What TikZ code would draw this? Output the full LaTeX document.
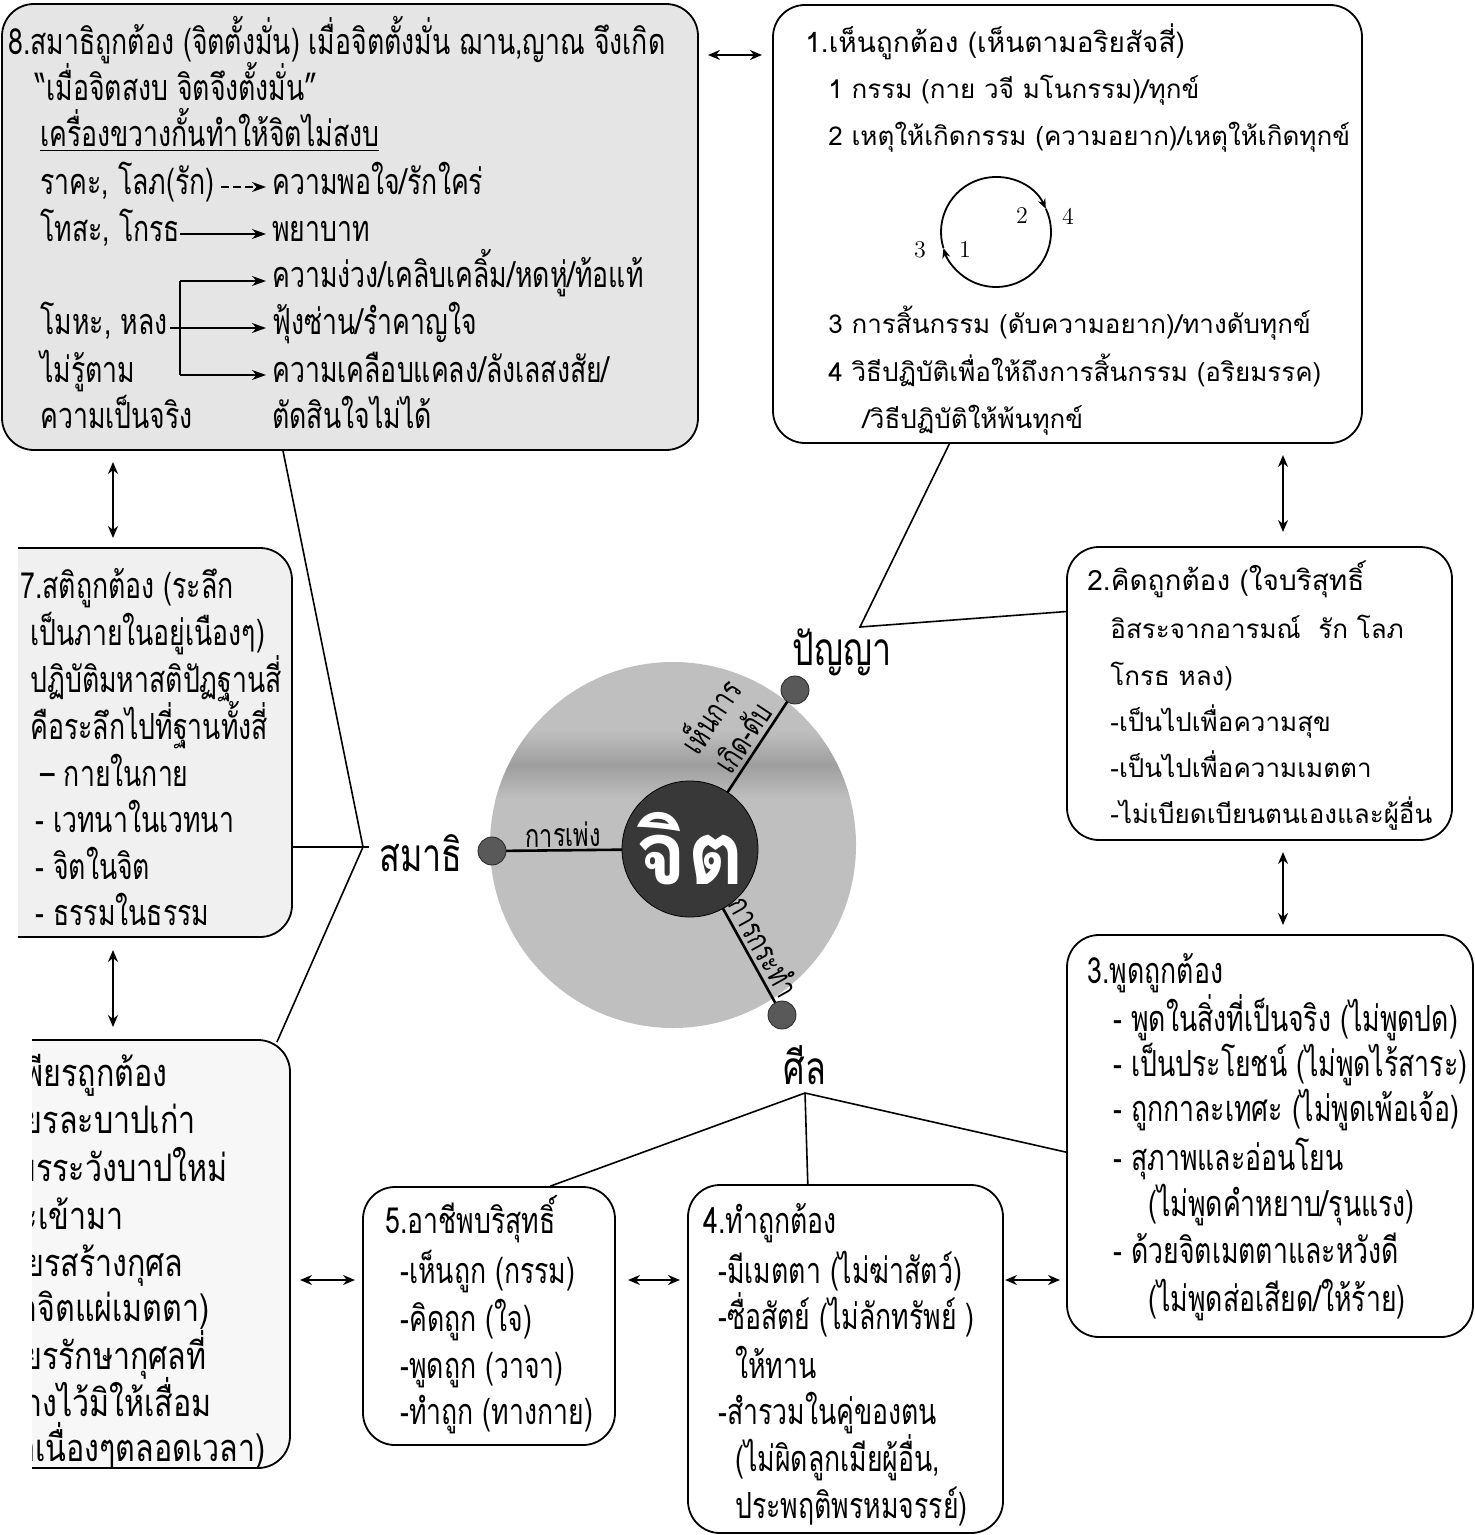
\documentclass[tikz,border=0pt]{standalone}
\usepackage{fontspec}
\usetikzlibrary{arrows.meta,calc,fit}
\newfontfamily\thai[Script=Thai]{Loma}
\newfontfamily\thaic[Script=Thai,FakeStretch=0.74]{Loma}
\newfontfamily\thaicw[Script=Thai,FakeStretch=0.8]{Loma}
\begin{document}
\begin{tikzpicture}[x=0.5pt,y=-0.5pt,
  box/.style={draw, line width=0.9pt, rounded corners=16pt, inner sep=0pt},
  tc/.style={font=\thaic\fontsize{18}{20}\selectfont, anchor=base west, inner sep=0pt},
  tce/.style={font=\thaicw\fontsize{19}{21}\selectfont, anchor=base east, inner sep=0pt},
  ts/.style={font=\thai\fontsize{13}{15}\selectfont, anchor=base west, inner sep=0pt},
  tsh/.style={font=\thai\fontsize{14}{17}\selectfont, anchor=base west, inner sep=0pt},
  dbl/.style={{Stealth[length=6pt,width=5pt]}-{Stealth[length=6pt,width=5pt]}, line width=0.8pt},
  arr/.style={-{Stealth[length=7pt,width=5pt]}, line width=0.8pt},
  carr/.style={-{Stealth[length=5pt,width=4pt]}, line width=0.9pt},
  conn/.style={line width=0.8pt},
  lbl/.style={font=\thaic\fontsize{23}{25}\selectfont, inner sep=0pt},
  spk/.style={font=\thaic\fontsize{16}{19}\selectfont, inner sep=1pt},
  dot/.style={circle, fill=black!65, draw=black!85, minimum size=14pt, inner sep=0pt},
  num/.style={font=\fontsize{12}{12}\selectfont, inner sep=0pt}
]
\useasboundingbox (0,0) rectangle (1475,1535);
\fill[white] (0,0) rectangle (1475,1535);
\clip (0,0) rectangle (1475,1535);

% ---------- boxes ----------
\node[box, fill=black!10, fit={(2,4) (698,450)}] (b8) {};
\node[box, fit={(773,5) (1362,443)}] (b1) {};
\node[box, fit={(1067,547) (1452,840)}] (b2) {};
\node[box, fit={(1067,935) (1473,1337)}] (b3) {};
\node[box, fit={(688,1185) (1003,1533)}] (b4) {};
\node[box, fit={(363,1187) (615,1445)}] (b5) {};
\begin{scope}
  \clip (18,530) rectangle (310,950);
  \node[box, fill=black!6, fit={(-40,548) (292,937)}] (b7) {};
\end{scope}
\begin{scope}
  \clip (32,1030) rectangle (310,1480);
  \node[box, fill=black!3, fit={(-40,1040) (290,1468)}] (b6) {};
  \node[tce] (t6a) at (168,1086) {6.เพียรถูกต้อง};
  \node[tce] (t6b) at (196,1133) {-เพียรละบาปเก่า};
  \node[tce] (t6c) at (228,1181) {-เพียรระวังบาปใหม่};
  \node[tce] (t6d) at (124,1229) {ที่จะเข้ามา};
  \node[tce] (t6e) at (184,1276) {-เพียรสร้างกุศล};
  \node[tce] (t6f) at (210,1321) {(ทำจิตแผ่เมตตา)};
  \node[tce] (t6g) at (207,1369) {-เพียรรักษากุศลที่};
  \node[tce] (t6h) at (212,1416) {สร้างไว้มิให้เสื่อม};
  \node[tce] (t6i) at (266,1461) {(ต่อเนื่องๆตลอดเวลา)};
\end{scope}

% ---------- centre ----------
\node[circle, fill=black!25, minimum size=183pt, inner sep=0pt] (big) at (673,845) {};
\begin{scope}
  \clip (673,845) circle[radius=183];
  \shade[top color=black!25, bottom color=black!25, middle color=black!38] (480,730) rectangle (870,800);
\end{scope}
\coordinate (cc) at (690,849);
\coordinate (pP) at (795,690);
\coordinate (pS) at (492,851);
\coordinate (pL) at (782,1015);
\draw[line width=1.3pt] (pS) -- (cc) node[spk, pos=0.36, above, sloped] (lS) {การเพ่ง};
\draw[line width=1.3pt] (cc) -- (pP) node[spk, pos=0.64, above=1pt, sloped, align=center] (lP) {เห็นการ\\เกิด-ดับ};
\draw[line width=1.3pt] (cc) -- (pL) node[spk, pos=0.64, above=1pt, sloped] (lL) {การกระทำ};
\node[dot] (dP) at (pP) {};
\node[dot] (dS) at (pS) {};
\node[dot] (dL) at (pL) {};
\node[circle, fill=black!78, draw=black, minimum size=68pt, inner sep=0pt, text=white,
      font=\thai\bfseries\fontsize{44}{44}\selectfont] (jit) at (cc) {จิต};

\node[lbl] (tP) at (842,652) {ปัญญา};
\node[lbl] (tS) at (421,853) {สมาธิ};
\node[lbl] (tL) at (805,1065) {ศีล};

% ---------- connectors ----------
\coordinate (v1) at (860,627);
\draw[conn] ($(b1.south west)!0.3!(b1.south east)$) -- (v1) -- ($(b2.north west)!0.222!(b2.south west)$);
\coordinate (v2) at (363,847);
\draw[conn] ($(b8.south west)!0.404!(b8.south east)$) -- (v2);
\draw[conn] (b7.east |- v2) -- ([xshift=3pt]v2);
\draw[conn] ([xshift=-7pt,yshift=-1.5pt]b6.north east) -- (v2);
\coordinate (v3) at (805,1093);
\draw[conn] ($(b5.north west)!0.742!(b5.north east)$) -- (v3) -- ($(b3.north west)!0.54!(b3.south west)$);
\draw[conn] (v3) -- ($(b4.north west)!0.381!(b4.north east)$);

% ---------- double arrows ----------
\coordinate (d1a) at (708,55);   \coordinate (d1b) at (762,55);
\coordinate (d2a) at (1283,455); \coordinate (d2b) at (1283,532);
\coordinate (d3a) at (1283,852); \coordinate (d3b) at (1283,925);
\coordinate (d4a) at (1005,1280);\coordinate (d4b) at (1060,1280);
\coordinate (d5a) at (628,1280); \coordinate (d5b) at (680,1280);
\coordinate (d6a) at (300,1280); \coordinate (d6b) at (355,1280);
\coordinate (d7a) at (113,462);  \coordinate (d7b) at (113,538);
\coordinate (d8a) at (113,950);  \coordinate (d8b) at (113,1027);
\foreach \i in {1,...,8} {\draw[dbl] (d\i a) -- (d\i b);}

% ---------- box 8 ----------
\node[tc] (t8a) at (8,55) {8.สมาธิถูกต้อง (จิตตั้งมั่น) เมื่อจิตตั้งมั่น ฌาน,ญาณ จึงเกิด};
\node[tc] (t8b) at (35,101) {“เมื่อจิตสงบ จิตจึงตั้งมั่น”};
\node[tc] (t8c) at (40,147) {\underline{เครื่องขวางกั้นทำให้จิตไม่สงบ}};
\node[tc] (t8d) at (40,195) {ราคะ, โลภ(รัก)};
\node[tc] (t8d2) at (272,195) {ความพอใจ/รักใคร่};
\node[tc] (t8e) at (40,242) {โทสะ, โกรธ};
\node[tc] (t8e2) at (272,242) {พยาบาท};
\node[tc] (t8f2) at (272,288) {ความง่วง/เคลิบเคลิ้ม/หดหู่/ท้อแท้};
\node[tc] (t8g) at (40,335) {โมหะ, หลง};
\node[tc] (t8g2) at (272,335) {ฟุ้งซ่าน/รำคาญใจ};
\node[tc] (t8h) at (40,382) {ไม่รู้ตาม};
\node[tc] (t8h2) at (272,382) {ความเคลือบแคลง/ลังเลสงสัย/};
\node[tc] (t8i) at (40,428) {ความเป็นจริง};
\node[tc] (t8i2) at (272,428) {ตัดสินใจไม่ได้};
\coordinate (a4e) at (266,187);
\coordinate (a5s) at (180,234); \coordinate (a5e) at (266,234);
\coordinate (br1) at (180,281); \coordinate (a6e) at (266,281);
\coordinate (a7e) at (266,328);
\coordinate (br2) at (180,375); \coordinate (a8e) at (266,375);
\draw[arr, dash pattern=on 4pt off 2pt] ([xshift=3pt]t8d.east |- a4e) -- (a4e);
\draw[arr] (a5s) -- (a5e);
\draw[arr] (br1) -- (a6e);
\draw[arr] ([xshift=1pt]t8g.east |- a7e) -- (a7e);
\draw[arr] (br2) -- (a8e);
\draw[conn] (br1) -- (br2);

% ---------- box 1 ----------
\node[tsh] (t1a) at (805,53) {1.เห็นถูกต้อง (เห็นตามอริยสัจสี่)};
\node[ts] (t1b) at (828,99) {1 กรรม (กาย วจี มโนกรรม)/ทุกข์};
\node[ts] (t1c) at (828,146) {2 เหตุให้เกิดกรรม (ความอยาก)/เหตุให้เกิดทุกข์};
\coordinate (cyc) at (996,232);
\draw[carr] (cyc) ++(163:55) arc[start angle=163, end angle=335, radius=55];
\draw[carr] (cyc) ++(-25:55) arc[start angle=-25, end angle=163, radius=55];
\node[num] (c2) at (1022,216) {2};
\node[num] (c4) at (1068,216) {4};
\node[num] (c3) at (920,250) {3};
\node[num] (c1) at (965,250) {1};
\node[ts] (t1d) at (828,334) {3 การสิ้นกรรม (ดับความอยาก)/ทางดับทุกข์};
\node[ts] (t1e) at (828,381) {4 วิธีปฏิบัติเพื่อให้ถึงการสิ้นกรรม (อริยมรรค)};
\node[ts] (t1f) at (862,428) {/วิธีปฏิบัติให้พ้นทุกข์};

% ---------- box 2 ----------
\node[tsh] (t2a) at (1087,590) {2.คิดถูกต้อง (ใจบริสุทธิ์};
\node[ts] (t2b) at (1110,638) {อิสระจากอารมณ์\ \ รัก โลภ};
\node[ts] (t2c) at (1110,685) {โกรธ หลง)};
\node[ts] (t2d) at (1110,731) {-เป็นไปเพื่อความสุข};
\node[ts] (t2e) at (1110,777) {-เป็นไปเพื่อความเมตตา};
\node[ts] (t2f) at (1110,823) {-ไม่เบียดเบียนตนเองและผู้อื่น};

% ---------- box 3 ----------
\node[tc] (t3a) at (1087,983) {3.พูดถูกต้อง};
\node[tc] (t3b) at (1113,1031) {- พูดในสิ่งที่เป็นจริง (ไม่พูดปด)};
\node[tc] (t3c) at (1113,1076) {- เป็นประโยชน์ (ไม่พูดไร้สาระ)};
\node[tc] (t3d) at (1113,1121) {- ถูกกาละเทศะ (ไม่พูดเพ้อเจ้อ)};
\node[tc] (t3e) at (1113,1170) {- สุภาพและอ่อนโยน};
\node[tc] (t3f) at (1148,1216) {(ไม่พูดคำหยาบ/รุนแรง)};
\node[tc] (t3g) at (1113,1263) {- ด้วยจิตเมตตาและหวังดี};
\node[tc] (t3h) at (1148,1311) {(ไม่พูดส่อเสียด/ให้ร้าย)};

% ---------- box 4 ----------
\node[tc] (t4a) at (703,1233) {4.ทำถูกต้อง};
\node[tc] (t4b) at (718,1283) {-มีเมตตา (ไม่ฆ่าสัตว์)};
\node[tc] (t4c) at (718,1329) {-ซื่อสัตย์ (ไม่ลักทรัพย์ )};
\node[tc] (t4d) at (735,1378) {ให้ทาน};
\node[tc] (t4e) at (718,1424) {-สำรวมในคู่ของตน};
\node[tc] (t4f) at (735,1471) {(ไม่ผิดลูกเมียผู้อื่น,};
\node[tc] (t4g) at (735,1518) {ประพฤติพรหมจรรย์)};

% ---------- box 5 ----------
\node[tc] (t5a) at (385,1233) {5.อาชีพบริสุทธิ์};
\node[tc] (t5b) at (400,1283) {-เห็นถูก (กรรม)};
\node[tc] (t5c) at (400,1331) {-คิดถูก (ใจ)};
\node[tc] (t5d) at (400,1378) {-พูดถูก (วาจา)};
\node[tc] (t5e) at (400,1424) {-ทำถูก (ทางกาย)};

% ---------- box 7 ----------
\node[tc] (t7a) at (20,598) {7.สติถูกต้อง (ระลึก};
\node[tc] (t7b) at (30,645) {เป็นภายในอยู่เนืองๆ)};
\node[tc] (t7c) at (30,692) {ปฏิบัติมหาสติปัฏฐานสี่};
\node[tc] (t7d) at (30,739) {คือระลึกไปที่ฐานทั้งสี่};
\node[tc] (t7e) at (40,786) {– กายในกาย};
\node[tc] (t7f) at (35,832) {- เวทนาในเวทนา};
\node[tc] (t7g) at (35,879) {- จิตในจิต};
\node[tc] (t7h) at (35,925) {- ธรรมในธรรม};
\end{tikzpicture}
\end{document}
